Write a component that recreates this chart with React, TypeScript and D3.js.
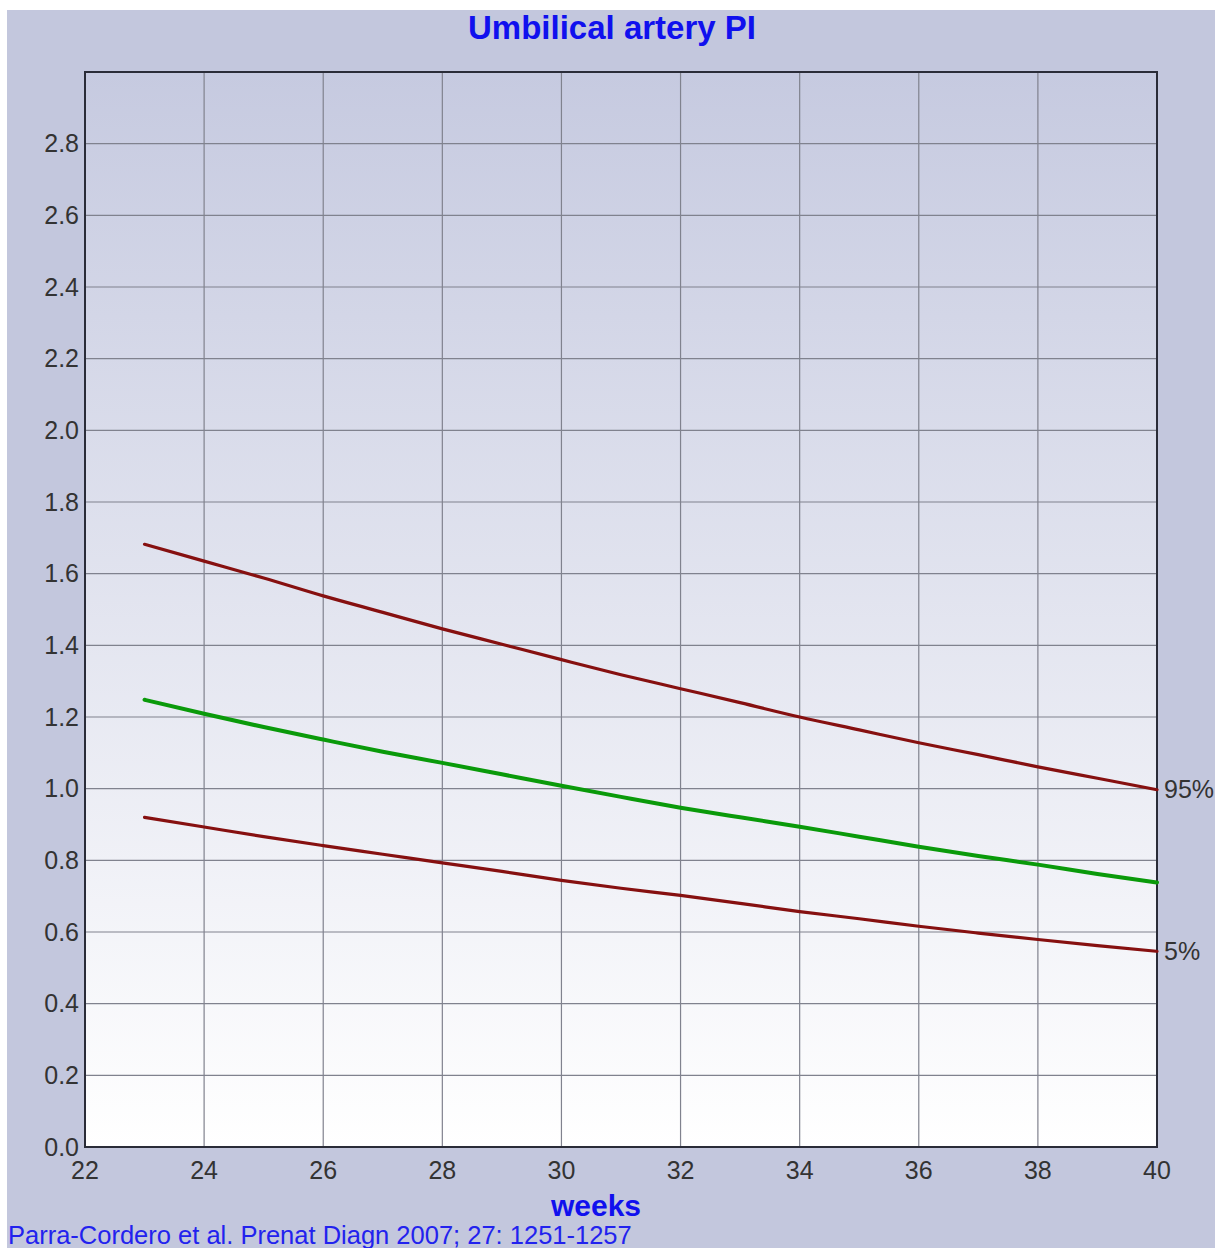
import { useEffect, useRef } from "react";
import * as d3 from "d3";

// gestational weeks and umbilical artery PI percentiles
const weeks = [23, 24, 25, 26, 27, 28, 29, 30, 31, 32, 33, 34, 35, 36, 37, 38, 39, 40];
const p95 = [1.682, 1.635, 1.588, 1.538, 1.492, 1.446, 1.403, 1.36, 1.318, 1.279, 1.24, 1.2, 1.164, 1.128, 1.095, 1.061, 1.029, 0.997];
const p50 = [1.248, 1.209, 1.172, 1.137, 1.103, 1.072, 1.04, 1.008, 0.977, 0.947, 0.92, 0.894, 0.866, 0.838, 0.812, 0.788, 0.762, 0.738];
const p5 = [0.92, 0.893, 0.866, 0.841, 0.817, 0.793, 0.769, 0.744, 0.722, 0.702, 0.68, 0.657, 0.637, 0.616, 0.597, 0.579, 0.562, 0.546];
const xTicks = [22, 24, 26, 28, 30, 32, 34, 36, 38, 40];
const yTicks = [0, 0.2, 0.4, 0.6, 0.8, 1.0, 1.2, 1.4, 1.6, 1.8, 2.0, 2.2, 2.4, 2.6, 2.8, 3.0];

export default function App() {
  const ref = useRef<SVGSVGElement | null>(null);

  useEffect(() => {
    document.body.style.margin = "0";
    if (!ref.current) return;
    const svg = d3.select(ref.current);
    svg.selectAll("*").remove();

    const width = 1222;
    const height = 1248;
    const margin = { top: 72, right: 65, bottom: 101, left: 85 };
    const font = "'Liberation Sans', Arial, sans-serif";

    const x = d3.scaleLinear().domain([22, 40]).range([margin.left, width - margin.right]);
    const y = d3.scaleLinear().domain([0, 3.0]).range([height - margin.bottom, margin.top]);

    const defs = svg.append("defs");
    const grad = defs.append("linearGradient")
      .attr("id", "plotBg")
      .attr("x1", "0%").attr("y1", "0%")
      .attr("x2", "0%").attr("y2", "100%");
    grad.append("stop").attr("offset", "0%").attr("stop-color", "#c6cae0");
    grad.append("stop").attr("offset", "100%").attr("stop-color", "#ffffff");

    // page frame
    svg.append("rect").attr("width", width).attr("height", height).attr("fill", "#ffffff");
    svg.append("rect")
      .attr("x", 7).attr("y", 10)
      .attr("width", width - 14).attr("height", height - 10)
      .attr("fill", "#c3c7dd");

    // plot area
    svg.append("rect")
      .attr("x", x(22)).attr("y", y(3.0))
      .attr("width", x(40) - x(22)).attr("height", y(0) - y(3.0))
      .attr("fill", "url(#plotBg)");

    // grid
    svg.append("g")
      .selectAll("line")
      .data(xTicks)
      .join("line")
      .attr("x1", d => x(d)).attr("x2", d => x(d))
      .attr("y1", y(0)).attr("y2", y(3.0))
      .attr("stroke", "#80828e")
      .attr("stroke-width", 1.2);

    svg.append("g")
      .selectAll("line")
      .data(yTicks)
      .join("line")
      .attr("x1", x(22)).attr("x2", x(40))
      .attr("y1", d => y(d)).attr("y2", d => y(d))
      .attr("stroke", "#80828e")
      .attr("stroke-width", 1.2);

    // frame
    svg.append("rect")
      .attr("x", x(22)).attr("y", y(3.0))
      .attr("width", x(40) - x(22)).attr("height", y(0) - y(3.0))
      .attr("fill", "none")
      .attr("stroke", "#2a2c38")
      .attr("stroke-width", 2);

    // tick labels
    svg.append("g")
      .selectAll("text")
      .data(yTicks.filter(d => d < 3.0))
      .join("text")
      .attr("x", x(22) - 6)
      .attr("y", d => y(d))
      .attr("dy", "0.35em")
      .attr("text-anchor", "end")
      .attr("fill", "#333333")
      .style("font-family", font)
      .style("font-size", "25px")
      .text(d => d.toFixed(1));

    svg.append("g")
      .selectAll("text")
      .data(xTicks)
      .join("text")
      .attr("x", d => x(d))
      .attr("y", y(0) + 32)
      .attr("text-anchor", "middle")
      .attr("fill", "#333333")
      .style("font-family", font)
      .style("font-size", "25px")
      .text(d => d);

    // curves
    const line = d3.line<number>()
      .x((_, i) => x(weeks[i]))
      .y(d => y(d))
      .curve(d3.curveMonotoneX);

    const series = [
      { values: p95, color: "#861010", w: 3.2 },
      { values: p5, color: "#861010", w: 3.2 },
      { values: p50, color: "#0a9a0a", w: 4 }
    ];
    svg.append("g")
      .selectAll("path")
      .data(series)
      .join("path")
      .attr("d", d => line(d.values))
      .attr("fill", "none")
      .attr("stroke", d => d.color)
      .attr("stroke-width", d => d.w)
      .attr("stroke-linecap", "round");

    // percentile labels
    const labels = [
      { text: "95%", v: p95[p95.length - 1] },
      { text: "5%", v: p5[p5.length - 1] }
    ];
    svg.append("g")
      .selectAll("text")
      .data(labels)
      .join("text")
      .attr("x", x(40) + 7)
      .attr("y", d => y(d.v))
      .attr("dy", "0.35em")
      .attr("fill", "#333333")
      .style("font-family", font)
      .style("font-size", "25px")
      .text(d => d.text);

    // titles
    svg.append("text")
      .attr("x", 612)
      .attr("y", 39)
      .attr("text-anchor", "middle")
      .attr("fill", "#1010ee")
      .style("font-family", font)
      .style("font-weight", "bold")
      .style("font-size", "33px")
      .text("Umbilical artery PI");

    svg.append("text")
      .attr("x", 596)
      .attr("y", 1216)
      .attr("text-anchor", "middle")
      .attr("fill", "#1010ee")
      .style("font-family", font)
      .style("font-weight", "bold")
      .style("font-size", "30px")
      .text("weeks");

    svg.append("text")
      .attr("x", 8)
      .attr("y", 1244)
      .attr("fill", "#2222ee")
      .style("font-family", font)
      .style("font-size", "25.5px")
      .text("Parra-Cordero et al. Prenat Diagn 2007; 27: 1251-1257");
  }, []);

  return <svg ref={ref} width={1222} height={1248} style={{ display: "block" }} />;
}
